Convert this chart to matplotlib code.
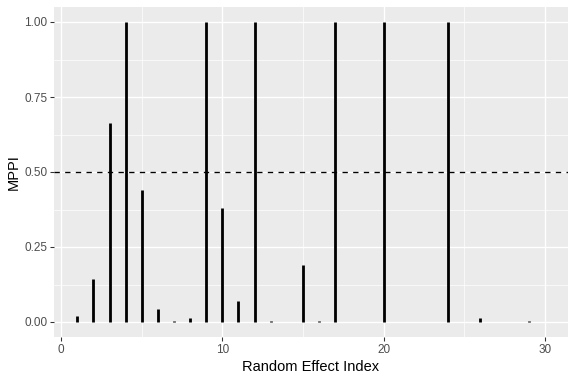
import matplotlib
matplotlib.use("Agg")
import matplotlib.pyplot as plt
from matplotlib.ticker import MultipleLocator

plt.rcParams['font.family'] = ['Liberation Sans', 'DejaVu Sans']

index = list(range(1, 31))
mppi = [0.02, 0.145, 0.665, 1.0, 0.44, 0.045, 0.003, 0.015, 1.0, 0.38,
        0.07, 1.0, 0.004, 0.0, 0.19, 0.003, 1.0, 0.0, 0.0, 1.0,
        0.0, 0.0, 0.0, 1.0, 0.0, 0.012, 0.0, 0.0, 0.003, 0.0]
threshold = 0.5
xticks = [0, 10, 20, 30]
yticks = [0.0, 0.25, 0.5, 0.75, 1.0]
ytick_labels = ["0.00", "0.25", "0.50", "0.75", "1.00"]

W, H, DPI = 576, 381, 96
fig = plt.figure(figsize=(W/DPI, H/DPI), dpi=DPI)
L, R, T, B = 54, 568, 7, 337
ax = fig.add_axes([L/W, 1-B/H, (R-L)/W, (B-T)/H])
ax.set_facecolor('#EBEBEB')
for s in ax.spines.values():
    s.set_visible(False)

ax.vlines(index, 0, mppi, colors='black', linewidth=2.1, zorder=3)
ax.axhline(threshold, color='black', linestyle=(0, (4, 4)), linewidth=1.0, zorder=4)

xmin, xmax = 1, 30
ex = (xmax - xmin) * 0.05
ax.set_xlim(xmin - ex, xmax + ex)
ax.set_ylim(-0.05, 1.05)

ax.set_xticks(xticks)
ax.set_yticks(yticks)
ax.set_yticklabels(ytick_labels)
ax.xaxis.set_minor_locator(MultipleLocator(5))
ax.yaxis.set_minor_locator(MultipleLocator(0.125))
ax.grid(which='major', color='white', linewidth=1.0, zorder=0)
ax.grid(which='minor', color='white', linewidth=0.5, zorder=0)
ax.set_axisbelow(True)
ax.tick_params(which='major', length=2.75, width=0.8, color='#333333',
               labelsize=8.8, labelcolor='#4D4D4D', pad=2.2)
ax.tick_params(which='minor', length=0)

ax.set_xlabel('Random Effect Index', fontsize=11, color='black', labelpad=3.5)
ax.set_ylabel('MPPI', fontsize=11, color='black', labelpad=2.5)

fig.savefig('out.png', dpi=DPI)
